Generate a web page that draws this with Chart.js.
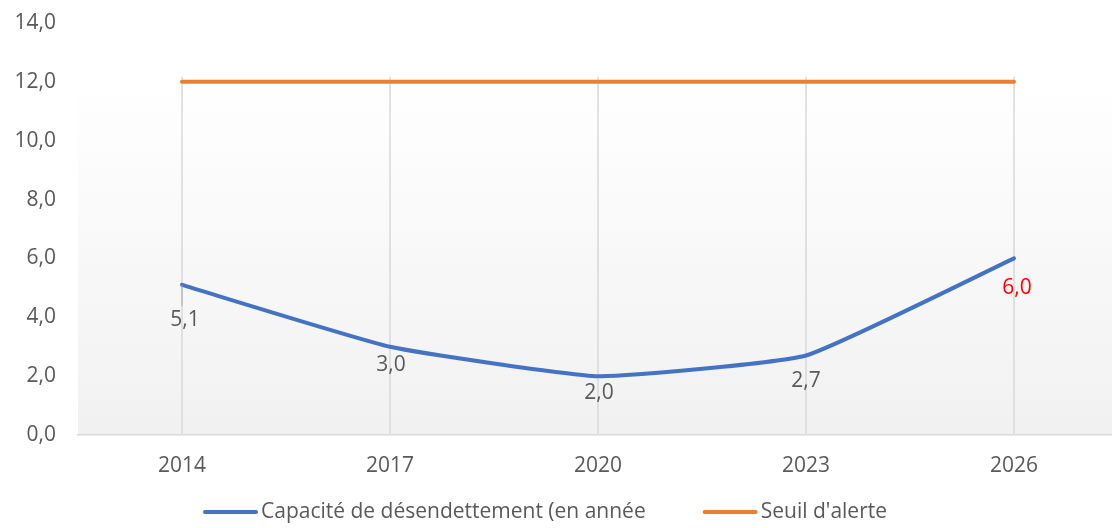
<!DOCTYPE html>
<html lang="fr">
<head>
<meta charset="UTF-8" />
<title>Capacité de désendettement</title>
<script src="https://cdn.jsdelivr.net/npm/chart.js"></script>
<style>
  html, body { margin: 0; padding: 0; background: #fff; overflow: hidden; }
  #wrap { width: 1112px; height: 528px; overflow: hidden; }
</style>
</head>
<body>
<div id="wrap"><canvas id="myChart" width="1118" height="528"></canvas></div>
<script>
const years = ["2014", "2017", "2020", "2023", "2026"];
const capacite = [5.1, 3.0, 2.0, 2.7, 6.0];
const seuil = [12, 12, 12, 12, 12];
const yMin = 0, yMax = 14, yStep = 2;

const FONT = "'Open Sans', 'Noto Sans', sans-serif";
const FSIZE = 21;
const GREY = "#595959";
const fmt = (v) => v.toFixed(1).replace(".", ",");

// fond dégradé + grille verticale (la zone de traçage commence sous 14,0)
const plotArea = {
  id: "plotArea",
  beforeDraw(chart) {
    const { ctx, chartArea: a, scales } = chart;
    const top = scales.y.getPixelForValue(12) - 5;
    const g = ctx.createLinearGradient(0, top, 0, a.bottom);
    g.addColorStop(0, "#ffffff");
    g.addColorStop(1, "#f1f1f1");
    ctx.save();
    ctx.fillStyle = g;
    ctx.fillRect(a.left, top, a.right - a.left, a.bottom - top);
    ctx.restore();
  },
  beforeDatasetsDraw(chart) {
    const { ctx, chartArea: a, scales } = chart;
    const top = scales.y.getPixelForValue(12) - 5;
    ctx.save();
    ctx.strokeStyle = "#d9d9d9";
    ctx.lineWidth = 1.5;
    years.forEach((_, i) => {
      const x = scales.x.getPixelForTick(i);
      ctx.beginPath();
      ctx.moveTo(x, top);
      ctx.lineTo(x, a.bottom);
      ctx.stroke();
    });
    ctx.restore();
  },
};

// étiquettes de données sous la courbe bleue
const dataLabels = {
  id: "dataLabels",
  afterDatasetsDraw(chart, args, opts) {
    const { ctx } = chart;
    const meta = chart.getDatasetMeta(0);
    ctx.save();
    ctx.font = FSIZE + "px " + FONT;
    ctx.textAlign = "center";
    ctx.textBaseline = "middle";
    meta.data.forEach((pt, i) => {
      const dx = opts.dx[i], dy = opts.dy[i];
      if (opts.leader[i]) {
        ctx.strokeStyle = "#a6a6a6";
        ctx.lineWidth = 1;
        ctx.beginPath();
        ctx.moveTo(pt.x, pt.y);
        ctx.lineTo(pt.x, pt.y + dy - 14);
        ctx.stroke();
      }
      ctx.fillStyle = opts.colors[i];
      ctx.fillText(fmt(capacite[i]), pt.x + dx, pt.y + dy);
    });
    ctx.restore();
  },
};

// légende en bas, dessinée comme dans Excel
const bottomLegend = {
  id: "bottomLegend",
  afterDraw(chart, args, opts) {
    const { ctx } = chart;
    ctx.save();
    ctx.font = FSIZE + "px " + FONT;
    ctx.textBaseline = "middle";
    const items = chart.data.datasets.map((d) => ({
      label: d.label, color: d.borderColor, w: ctx.measureText(d.label).width,
    }));
    const total = items.reduce((s, it) => s + opts.line + opts.gap + it.w, 0) + opts.spacing * (items.length - 1);
    let x = opts.centerX - total / 2;
    items.forEach((it) => {
      ctx.strokeStyle = it.color;
      ctx.lineWidth = 4;
      ctx.lineCap = "round";
      ctx.beginPath();
      ctx.moveTo(x + 2, opts.y);
      ctx.lineTo(x + opts.line - 2, opts.y);
      ctx.stroke();
      ctx.fillStyle = GREY;
      ctx.fillText(it.label, x + opts.line + opts.gap, opts.y);
      x += opts.line + opts.gap + it.w + opts.spacing;
    });
    ctx.restore();
  },
};

new Chart(document.getElementById("myChart"), {
  type: "line",
  data: {
    labels: years,
    datasets: [
      {
        label: "Capacité de désendettement (en année",
        data: capacite,
        borderColor: "#4472C4",
        borderWidth: 4,
        pointRadius: 0,
        tension: 0.13,
        borderCapStyle: "round",
      },
      {
        label: "Seuil d'alerte",
        data: seuil,
        borderColor: "#ED7D31",
        borderWidth: 4,
        pointRadius: 0,
        borderCapStyle: "round",
      },
    ],
  },
  options: {
    responsive: false,
    animation: false,
    devicePixelRatio: 1,
    layout: { padding: { top: 23, left: 0, right: 0, bottom: 0 } },
    plugins: {
      legend: { display: false },
      tooltip: { enabled: false },
      dataLabels: {
        dx: [3, 1, 1, 0, 3],
        dy: [35, 18, 17, 25, 30],
        leader: [true, false, false, false, false],
        colors: [GREY, GREY, GREY, GREY, "#FF0000"],
      },
      bottomLegend: { centerX: 545, y: 512, line: 55, gap: 3, spacing: 57 },
    },
    scales: {
      x: {
        offset: true,
        grid: { display: false, drawTicks: false },
        border: { display: true, color: "#d9d9d9", width: 1.5 },
        ticks: { color: GREY, font: { family: FONT, size: FSIZE }, padding: 18 },
        afterFit(scale) { scale.height = 93; },
      },
      y: {
        min: yMin,
        max: yMax,
        grid: { display: false, drawTicks: true, tickLength: 22 },
        border: { display: false },
        ticks: {
          stepSize: yStep,
          color: GREY,
          font: { family: FONT, size: FSIZE },
          padding: 0,
          callback: (v) => fmt(v),
        },
        afterFit(scale) { scale.width = 78; },
      },
    },
  },
  plugins: [plotArea, dataLabels, bottomLegend],
});
</script>
</body>
</html>
